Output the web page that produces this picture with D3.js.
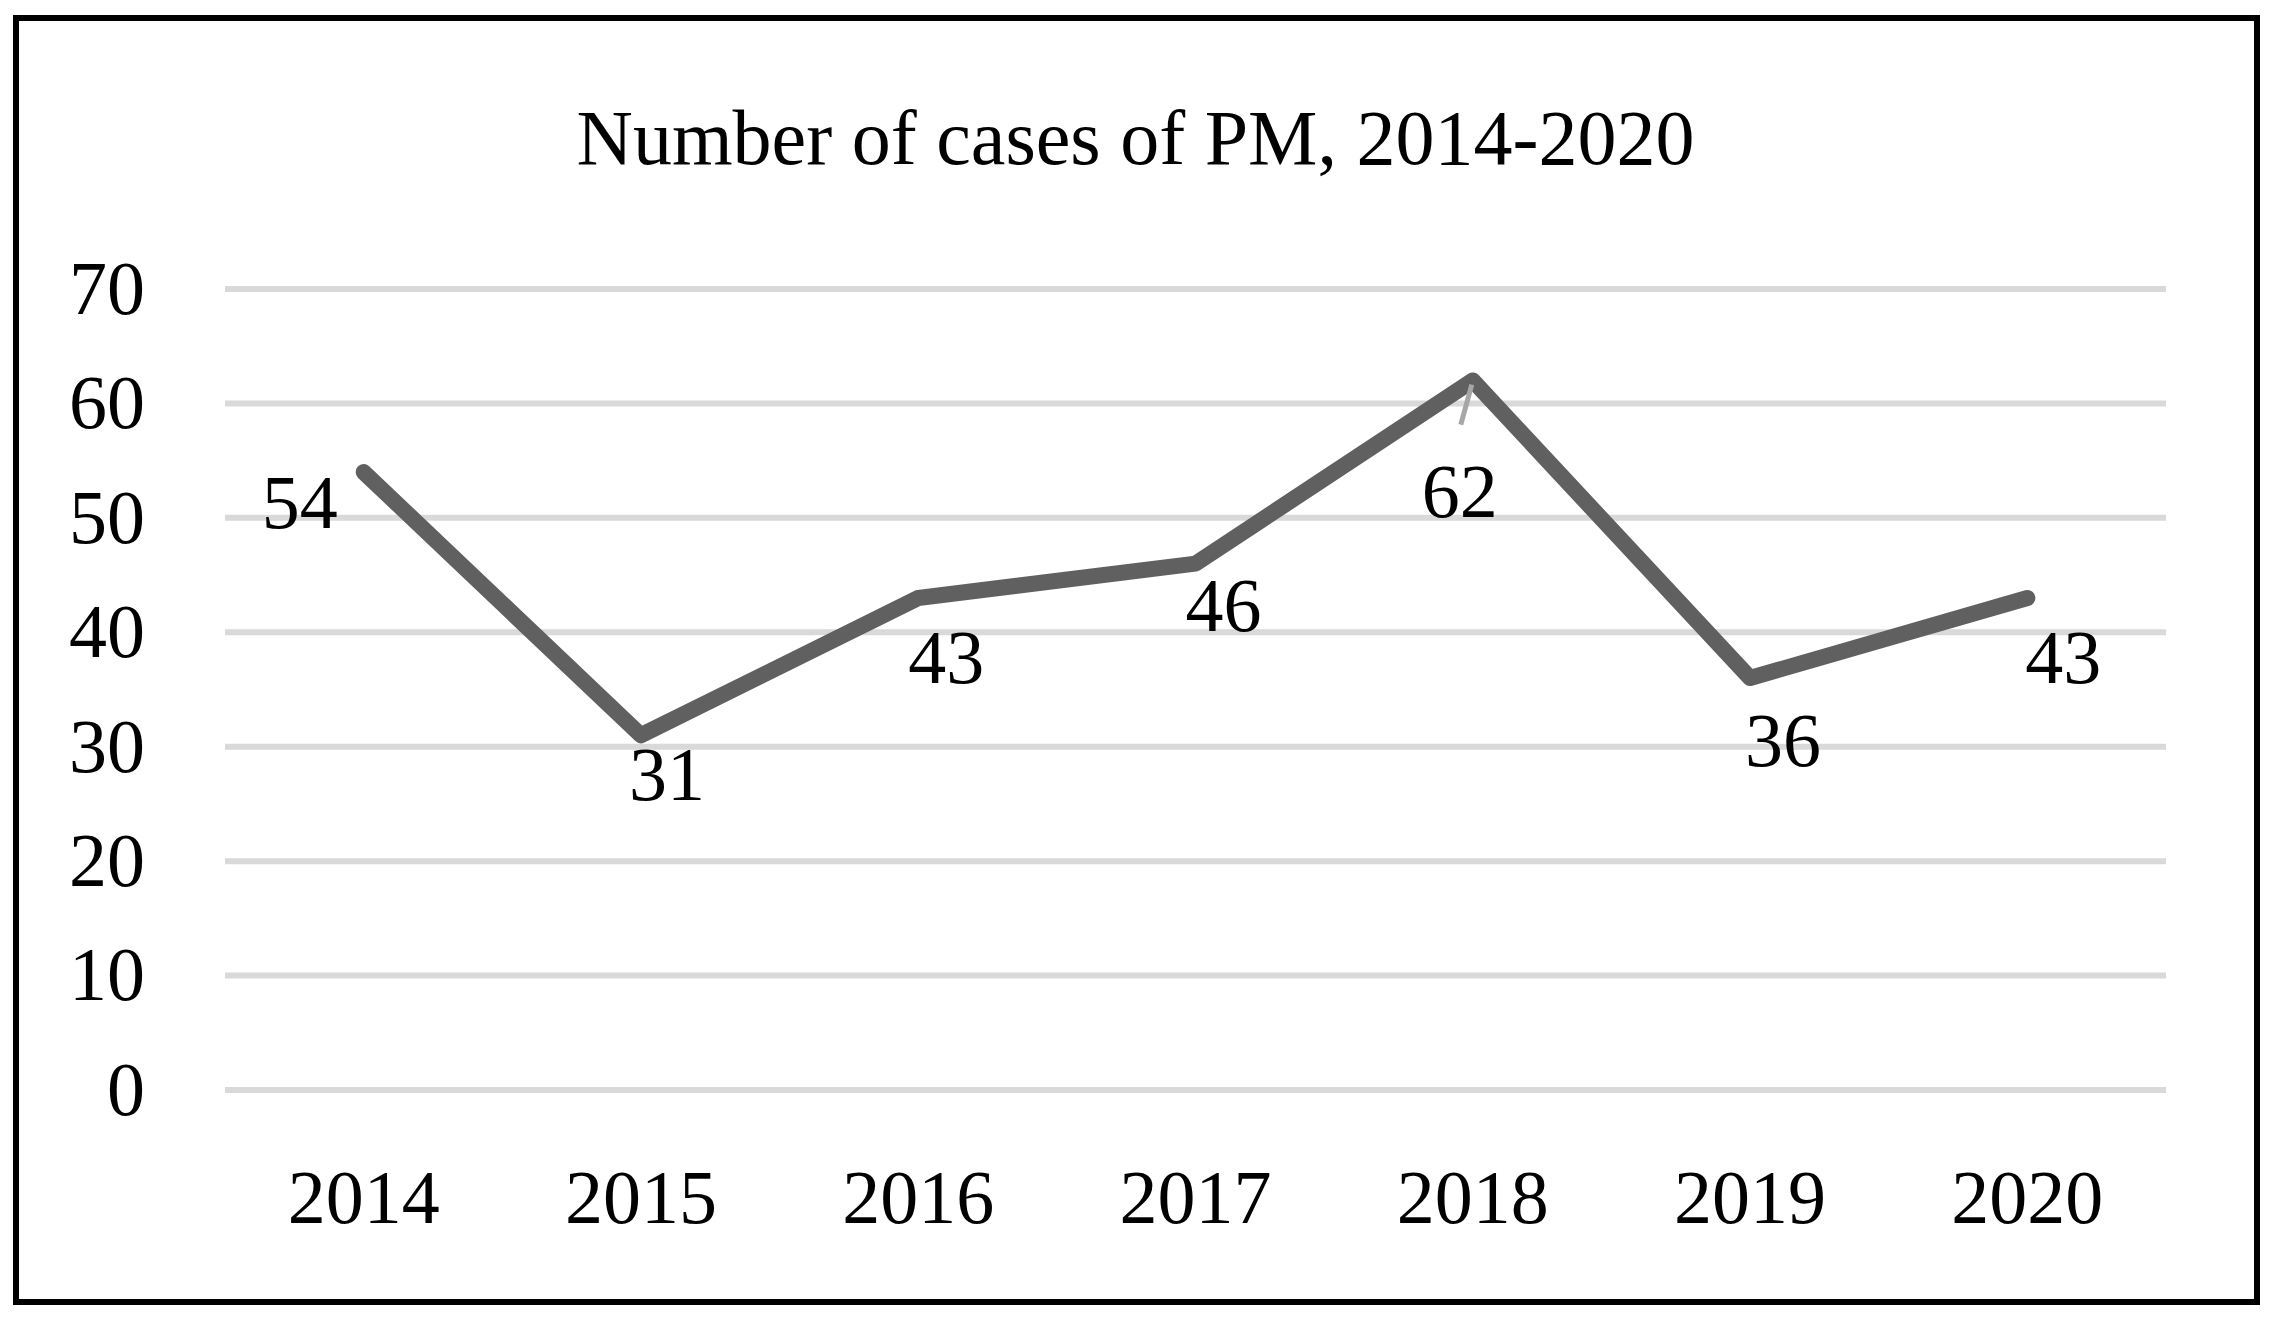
<!DOCTYPE html>
<html><head><meta charset="utf-8">
<script src="https://cdn.jsdelivr.net/npm/d3@7"></script>
<style>html,body{margin:0;padding:0;background:#fff;}</style>
</head><body>
<svg id="chart" width="2275" height="1323"></svg>
<script>
const title = "Number of cases of PM, 2014-2020";
const years = ["2014","2015","2016","2017","2018","2019","2020"];
const cases = [54, 31, 43, 46, 62, 36, 43];
const yTicks = [0, 10, 20, 30, 40, 50, 60, 70];
// label offsets relative to the point (px)
const labelDx = [-64, 26, 28, 28, -13, 33, 36];
const labelDy = [29, 38, 58, 41, 110, 61, 58];

const svg = d3.select("#chart");
const W = 2275, H = 1323;
const font = "'Liberation Serif', 'Times New Roman', serif";
const m = {left: 225, right: 2166, top: 289, bottom: 1090};

svg.append("rect").attr("x", 0).attr("y", 0).attr("width", W).attr("height", H).attr("fill", "#fff");
svg.append("rect").attr("x", 16).attr("y", 18).attr("width", 2241).attr("height", 1284)
  .attr("fill", "none").attr("stroke", "#000").attr("stroke-width", 6);

const x = d3.scaleBand().domain(years).range([m.left, m.right]);
const y = d3.scaleLinear().domain([0, 70]).range([m.bottom, m.top]);

svg.append("text").attr("x", (m.left + m.right) / 2 - 60).attr("y", 164)
  .attr("text-anchor", "middle").attr("font-family", font).attr("font-size", 78)
  .attr("fill", "#000").text(title);

// gridlines
svg.append("g").selectAll("line").data(yTicks).join("line")
  .attr("x1", m.left).attr("x2", m.right)
  .attr("y1", d => y(d)).attr("y2", d => y(d))
  .attr("stroke", "#d9d9d9").attr("stroke-width", 6);

// y axis
const yAxis = svg.append("g").attr("transform", `translate(${m.left - 80},0)`)
  .call(d3.axisLeft(y).tickValues(yTicks).tickSize(0).tickPadding(0));
yAxis.select(".domain").remove();
yAxis.selectAll("text").attr("font-family", font).attr("font-size", 76).attr("fill", "#000");

// x axis
const xAxis = svg.append("g").attr("transform", `translate(0,${m.bottom + 80})`)
  .call(d3.axisBottom(x).tickSize(0).tickPadding(0));
xAxis.select(".domain").remove();
xAxis.selectAll("text").attr("font-family", font).attr("font-size", 76).attr("fill", "#000").attr("dy", "0.7em");

const cx = d => x(d) + x.bandwidth() / 2;
const line = d3.line().x((d, i) => cx(years[i])).y(d => y(d));
svg.append("path").datum(cases).attr("d", line)
  .attr("fill", "none").attr("stroke", "#606060").attr("stroke-width", 16)
  .attr("stroke-linejoin", "round").attr("stroke-linecap", "round");

// leader line for 2018
const li = 4;
svg.append("line")
  .attr("x1", cx(years[li]) - 1).attr("y1", y(cases[li]) + 4)
  .attr("x2", cx(years[li]) - 12).attr("y2", y(cases[li]) + 44)
  .attr("stroke", "#a6a6a6").attr("stroke-width", 5);

svg.append("g").selectAll("text").data(cases).join("text")
  .attr("x", (d, i) => cx(years[i]) + labelDx[i])
  .attr("y", (d, i) => y(d) + labelDy[i])
  .attr("dy", "0.35em").attr("text-anchor", "middle")
  .attr("font-family", font).attr("font-size", 76).attr("fill", "#000")
  .text(d => d);
</script>
</body></html>
